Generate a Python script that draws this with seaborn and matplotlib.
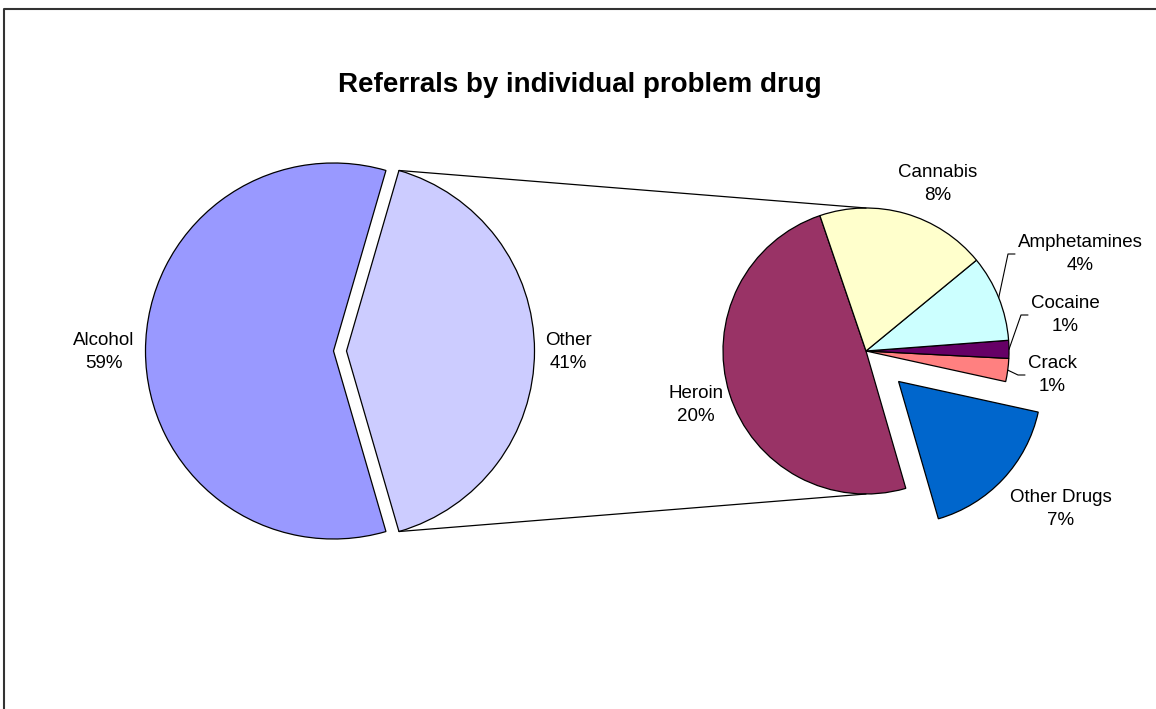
import numpy as np
import matplotlib.pyplot as plt
import seaborn as sns

sns.set_theme(style='white')
plt.rcParams['font.family'] = ['Liberation Sans', 'DejaVu Sans']

# Main split of referrals (%)
main_labels = ['Alcohol', 'Other']
main_share = [59, 41]
main_colors = ['#9999FF', '#CCCCFF']

# Breakdown of "Other" (% of all referrals)
drug_labels = ['Heroin', 'Other Drugs', 'Crack', 'Cocaine', 'Amphetamines', 'Cannabis']
drug_share = [20.2, 7.0, 1.07, 0.83, 4.0, 7.9]
drug_colors = ['#993366', '#0066CC', '#FF8080', '#660066', '#CCFFFF', '#FFFFCC']

W, H = 1156, 709


def flip(y):
    # pixel row (from top) -> axes y (from bottom)
    return H - y


fig = plt.figure(figsize=(W / 100, H / 100), dpi=100)
ax = fig.add_axes([0, 0, 1, 1])

wp = dict(edgecolor='black', linewidth=0.9)

# left pie
left_c, left_r = (340, flip(351)), 188
main_start = 180 - main_share[0] / sum(main_share) * 180
main_wedges, _ = ax.pie(main_share, colors=main_colors, center=left_c, radius=left_r,
                        startangle=main_start, explode=[6.5, 6.5], wedgeprops=wp)

# right pie
right_c, right_r = (866, flip(351)), 143
drug_wedges, _ = ax.pie(drug_share, colors=drug_colors, center=right_c, radius=right_r,
                        startangle=108.8, explode=[0, 44.6, 0, 0, 0, 0], wedgeprops=wp)

# connector lines from "Other" slice to the breakdown pie
other = main_wedges[1]
cx, cy = other.center
t_top, t_bot = np.deg2rad(other.theta2), np.deg2rad(other.theta1)
ax.plot([cx + other.r * np.cos(t_top), right_c[0]],
        [cy + other.r * np.sin(t_top), right_c[1] + right_r], color='black', lw=0.9)
ax.plot([cx + other.r * np.cos(t_bot), right_c[0]],
        [cy + other.r * np.sin(t_bot), right_c[1] - right_r], color='black', lw=0.9)

# label placement (pixel coords, alignment)
label_pos = {
    'Alcohol': (104, 352, 'center'),
    'Other': (568, 352, 'center'),
    'Heroin': (696, 405, 'center'),
    'Cannabis': (938, 184, 'center'),
    'Amphetamines': (1018, 254, 'left'),
    'Cocaine': (1031, 315, 'left'),
    'Crack': (1028, 375, 'left'),
    'Other Drugs': (1061, 509, 'center'),
}

all_labels = main_labels + drug_labels
all_share = main_share + drug_share
all_wedges = list(main_wedges) + list(drug_wedges)

for lab, val, wdg in zip(all_labels, all_share, all_wedges):
    lx, ly, ha = label_pos[lab]
    ax.text(lx, flip(ly), f'{lab}\n{round(val)}%', ha=ha, va='center',
            multialignment='center', fontsize=13.5, color='black', linespacing=1.4)
    if ha == 'left':
        # leader line from slice edge to label
        tm = np.deg2rad((wdg.theta1 + wdg.theta2) / 2)
        wx, wy = wdg.center
        ax.plot([wx + wdg.r * np.cos(tm), lx - 10, lx - 3],
                [wy + wdg.r * np.sin(tm), flip(ly), flip(ly)], color='black', lw=0.8)

ax.text(580, flip(85), 'Referrals by individual problem drug', ha='center', va='center',
        fontsize=20, fontweight='bold', color='black')

# chart area border (runs off the right and bottom)
ax.plot([4, 4, W + 5], [-5, flip(9), flip(9)], color='#333333', lw=1.5)

ax.set_xlim(0, W)
ax.set_ylim(0, H)
ax.set_aspect('equal')
ax.set_axis_off()

fig.savefig('out.png', dpi=100)
